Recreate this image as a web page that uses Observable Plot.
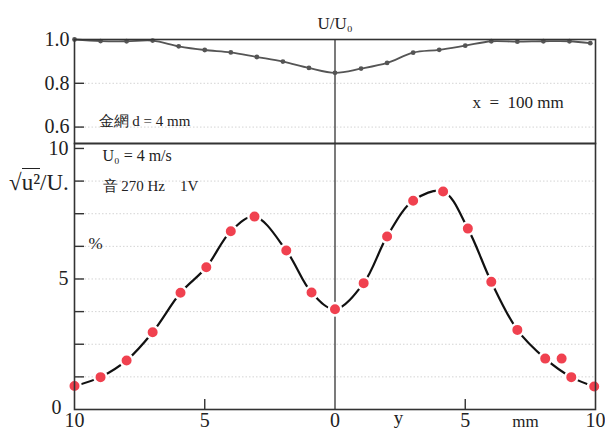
<!DOCTYPE html>
<html><head><meta charset="utf-8">
<script src="https://cdn.jsdelivr.net/npm/d3@7"></script>
<script src="https://cdn.jsdelivr.net/npm/@observablehq/plot@0.6"></script>
<style>
body{margin:0;background:#fff;}
#chart{position:relative;width:605px;height:430px;overflow:hidden;background:#fff;font-family:"Liberation Serif",serif;color:#222}
#chart svg{position:absolute;left:0;}
#ylab{position:absolute;left:9px;top:171px;font-size:23px;line-height:1;white-space:nowrap}
#ylab span{border-top:1.5px solid #222;padding-top:1px}
</style></head><body><div id="chart"><div id="ylab">√<span>u²</span>/U.</div></div>
<script>
// Top panel: U/U0 across y (mm)
const topPos   = [-10, -9, -8, -7, -6, -5, -4, -3, -2, -1, 0, 1, 2, 3, 4, 5, 6, 7, 8, 9, 9.8];
const topRatio = [1.0, 0.993, 0.992, 0.995, 0.969, 0.952, 0.941, 0.92, 0.899, 0.87, 0.848, 0.867, 0.893, 0.94, 0.953, 0.972, 0.992, 0.99, 0.992, 0.992, 0.983];
const topTicks = [0.6, 0.8, 1.0];
const topGrid  = [0.6, 0.8];

// Bottom panel: sqrt(u^2)/U (%) across y (mm)
const botPos     = [-10, -9, -8, -7, -5.93, -4.94, -4.0, -3.09, -1.87, -0.9, 0, 1.1, 2.0, 3.0, 4.15, 5.1, 6.0, 7.0, 8.07, 8.7, 9.07, 9.95];
const botRms     = [0.9, 1.24, 1.88, 2.96, 4.47, 5.45, 6.83, 7.39, 6.09, 4.48, 3.84, 4.84, 6.63, 8.0, 8.35, 6.93, 4.89, 3.05, 1.95, 1.95, 1.24, 0.88];
const botOnCurve = [true, true, true, true, true, true, true, true, true, true, true, true, true, true, true, true, true, true, true, false, true, true];
const botTicks      = [1.25, 2.5, 3.75, 5, 6.25, 7.5, 8.75, 10];
const botLabelTicks = [5, 10];
const botZeroTick   = [0];
const xTicks        = [-10, -5, 0, 5, 10];
const xInnerTicks   = [-5, 5];

const topData = topPos.map((p, i) => ({pos: p, v: topRatio[i]}));
const botData = botPos.map((p, i) => ({pos: p, v: botRms[i], on: botOnCurve[i]}));

const baseStyle = {fontFamily: "'Liberation Serif', serif", fontSize: "20px", color: "#222", background: "transparent", overflow: "visible"};
const frameW = 605 - 74 - 10;

const topPlot = Plot.plot({
  width: 605, height: 144, marginTop: 39, marginBottom: 1, marginLeft: 74, marginRight: 10,
  x: {domain: [-10, 10], axis: null},
  y: {domain: [0.525, 1.0], axis: null},
  style: baseStyle,
  marks: [
    Plot.gridY(topGrid, {stroke: "#d4d4d4", strokeOpacity: 1, strokeDasharray: "1.5,2"}),
    Plot.ruleX([0], {stroke: "#222", strokeWidth: 1.2}),
    Plot.line(topData, {x: "pos", y: "v", stroke: "#555", strokeWidth: 1.8, curve: "catmull-rom"}),
    Plot.dot(topData, {x: "pos", y: "v", r: 2.4, fill: "#555"}),
    Plot.frame({stroke: "#333", strokeWidth: 1.6}),
    Plot.tickY(topGrid, {y: d => d, insetRight: frameW - 10, stroke: "#333", strokeWidth: 1.4}),
    Plot.axisY(topTicks, {label: null, tickSize: 0, tickPadding: 5, tickFormat: d3.format(".1f"), fontFamily: "'Liberation Serif', serif"}),
    Plot.text(["U/U₀"], {frameAnchor: "top", dy: -11, lineAnchor: "bottom", fontSize: 17, fontFamily: "'Liberation Serif', serif"}),
    Plot.text(["金網 d = 4 mm"], {frameAnchor: "top-left", textAnchor: "start", lineAnchor: "bottom", dx: 24, dy: 86, fontSize: 15}),
    Plot.text(["x\u2002=\u2002100 mm"], {frameAnchor: "top-left", textAnchor: "start", lineAnchor: "bottom", dx: 398, dy: 68, fontSize: 17})
  ]
});
topPlot.style.top = "0px";

const botPlot = Plot.plot({
  width: 605, height: 310, marginTop: 23, marginBottom: 21, marginLeft: 74, marginRight: 10,
  x: {domain: [-10, 10], axis: null},
  y: {domain: [0, 10.19], axis: null},
  style: baseStyle,
  marks: [
    Plot.gridY(botTicks.filter(d => d < 10), {stroke: "#d4d4d4", strokeOpacity: 1, strokeDasharray: "1.5,2"}),
    Plot.ruleX([0], {stroke: "#222", strokeWidth: 1.2}),
    Plot.line(botData.filter(d => d.on), {x: "pos", y: "v", stroke: "#111", strokeWidth: 2.2, curve: "catmull-rom"}),
    Plot.dot(botData, {x: "pos", y: "v", r: 6.2, fill: "#f0414f", stroke: "#fff", strokeWidth: 2.4}),
    Plot.frame({stroke: "#333", strokeWidth: 1.6}),
    Plot.tickY(botTicks, {y: d => d, insetRight: frameW - 10, stroke: "#333", strokeWidth: 1.4}),
    Plot.tickX(xInnerTicks, {x: d => d, insetTop: 256, stroke: "#333", strokeWidth: 1.4}),
    Plot.axisY(botLabelTicks, {label: null, tickSize: 0, tickPadding: 6, fontFamily: "'Liberation Serif', serif"}),
    Plot.axisY(botZeroTick, {label: null, tickSize: 0, tickPadding: 13, dy: -2, fontFamily: "'Liberation Serif', serif"}),
    Plot.axisX(xTicks, {label: null, tickSize: 0, tickPadding: 3, tickFormat: d => Math.abs(d), fontFamily: "'Liberation Serif', serif"}),
    Plot.text(["y"], {frameAnchor: "bottom-left", textAnchor: "middle", lineAnchor: "bottom", dx: 324, dy: 14, fontSize: 19}),
    Plot.text(["mm"], {frameAnchor: "bottom-left", textAnchor: "middle", lineAnchor: "bottom", dx: 451, dy: 17, fontSize: 17}),
    Plot.text(["U₀ = 4 m/s"], {frameAnchor: "top-left", textAnchor: "start", lineAnchor: "bottom", dx: 28, dy: 17, fontSize: 16}),
    Plot.text(["音 270 Hz\u20031V"], {frameAnchor: "top-left", textAnchor: "start", lineAnchor: "bottom", dx: 28, dy: 47, fontSize: 15}),
    Plot.text(["%"], {frameAnchor: "top-left", textAnchor: "start", lineAnchor: "bottom", dx: 14, dy: 105, fontSize: 17})
  ]
});
botPlot.style.top = "120px";

const chart = document.getElementById("chart");
chart.insertBefore(topPlot, chart.firstChild);
chart.insertBefore(botPlot, chart.firstChild);
</script>
</body></html>
